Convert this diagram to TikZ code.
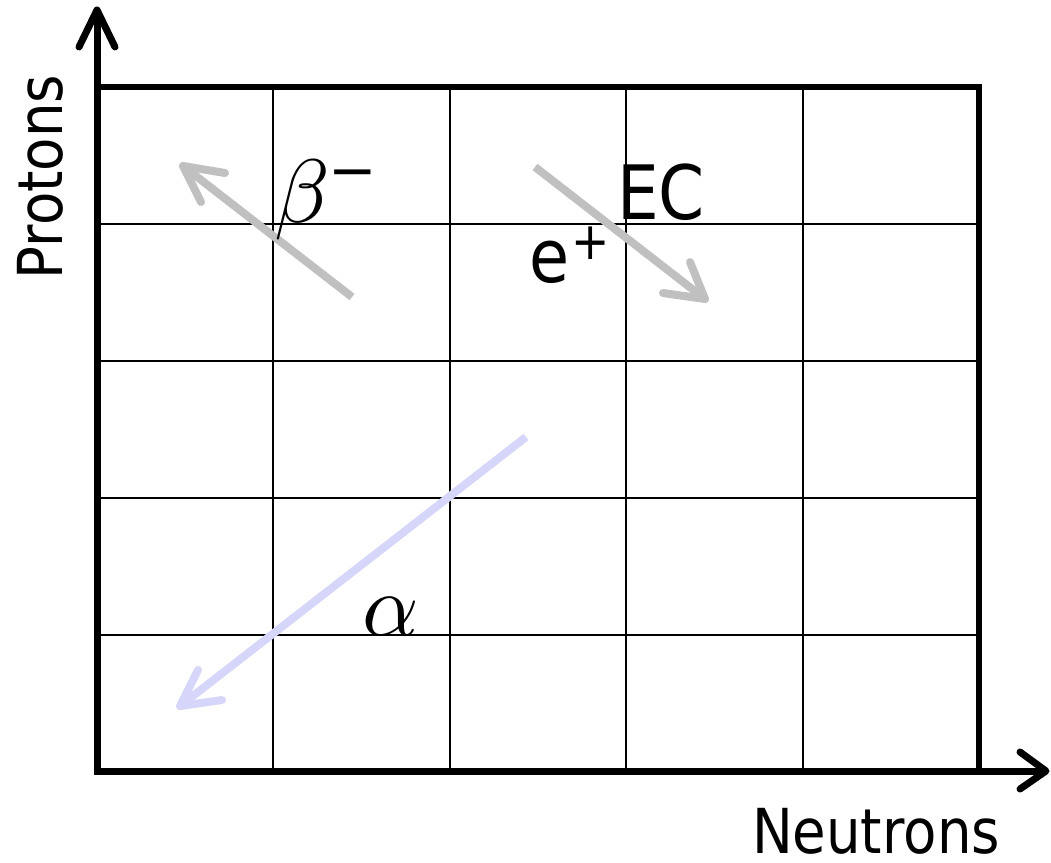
\documentclass[tikz,border=0pt]{standalone}
\usepackage{fontspec}
\DeclareFontFamily{OML}{cmm}{\skewchar\font'177}
\DeclareFontShape{OML}{cmm}{m}{it}{<->cmmi10}{}
\newfontfamily\labelfont{DejaVu Sans}[FakeStretch=0.88]
\newfontfamily\symfont{DejaVu Sans}
\definecolor{decaygray}{RGB}{192,192,192}
\definecolor{alphablue}{RGB}{214,214,250}
\tikzset{
  gridline/.style={line width=2pt, black},
  frameline/.style={line width=6pt, black, line join=miter},
  axisline/.style={line width=7pt, black, line cap=butt},
  axishead/.style={line width=7pt, black, line cap=round, line join=round},
  graydecay/.style={line width=8pt, decaygray, line cap=butt, line join=round},
  grayhead/.style={line width=8pt, decaygray, line cap=round, line join=round},
  alphadecay/.style={line width=8pt, alphablue, line cap=butt, line join=round},
  alphahead/.style={line width=8pt, alphablue, line cap=round, line join=round},
  txt/.style={inner sep=0pt, outer sep=0pt},
}
\begin{document}
\begin{tikzpicture}[x=1pt, y=-1pt]
\useasboundingbox (0,0) rectangle (1051,862);
% grid
\foreach \x in {273,450,626,803} \draw[gridline] (\x,87) -- (\x,771);
\foreach \y in {224,361,498,635} \draw[gridline] (97,\y) -- (979,\y);
% frame
\draw[frameline] (94,87) -- (979,87) -- (979,771);
% axes
\coordinate (origin) at (97,771);
\coordinate (ytip) at (97,10);
\coordinate (xtip) at (1046,771);
\draw[axisline] (97,774.5) -- (ytip);
\draw[axisline] (93.5,771) -- (xtip);
\draw[axishead] (79,47) -- (ytip) -- (115,47);
\draw[axishead] (1020,752) -- (xtip) -- (1020,789);
% beta- arrow
\coordinate (btail) at (352,297);
\coordinate (btip) at (183,166);
\draw[graydecay] (btail) -- (btip);
\draw[grayhead] (225,173) -- (btip) -- (201,202);
% EC arrow
\coordinate (etail) at (535,167);
\coordinate (etip) at (705,299);
\draw[graydecay] (etail) -- (etip);
\draw[grayhead] (690,262) -- (etip) -- (663,293);
% alpha arrow
\coordinate (atail) at (526,437);
\coordinate (atip) at (180,706);
\draw[alphadecay] (atail) -- (atip);
\draw[alphahead] (198,670) -- (atip) -- (222,700);
% labels
\node[txt, anchor=base west] (beta) at (274,222) {\fontsize{90}{90}\selectfont $\beta$};
\node[txt] (betaminus) at (353,180) {\symfont\fontsize{58}{58}\selectfont −};
\node[txt, anchor=base west] (ec) at (617,219) {\labelfont\fontsize{75}{75}\selectfont EC};
\node[txt, anchor=base west] (ep) at (529,282) {\labelfont\fontsize{74}{74}\selectfont e};
\node[txt] (epplus) at (591,243) {\labelfont\fontsize{52}{52}\selectfont +};
\node[txt, anchor=base west] (alpha) at (362,635) {\fontsize{88}{88}\selectfont $\alpha$};
\node[txt, anchor=base west] (neutrons) at (752,853) {\labelfont\fontsize{62}{62}\selectfont Neutrons};
\node[txt, anchor=base west, rotate=90] (protons) at (62,279) {\labelfont\fontsize{62}{62}\selectfont Protons};
\end{tikzpicture}
\end{document}
